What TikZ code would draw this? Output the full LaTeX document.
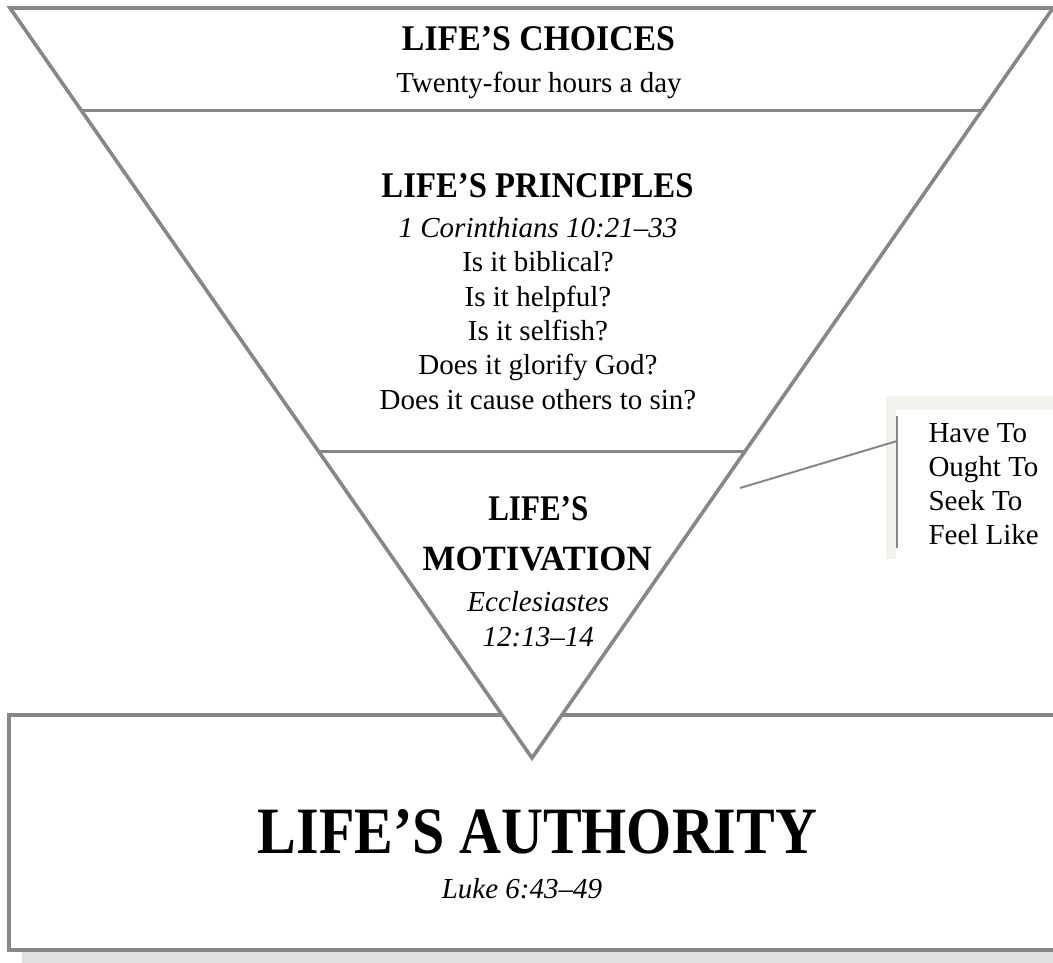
\documentclass[tikz,border=0pt]{standalone}
\usepackage{fontspec}
\setmainfont{Liberation Serif}
\usepackage{graphicx}
\usetikzlibrary{calc}
\definecolor{linegray}{RGB}{135,135,135}
\definecolor{shadowgray}{RGB}{224,224,224}
\definecolor{paperbeige}{RGB}{243,242,237}
\newcommand\headtext[3]{\resizebox{#1pt}{#2pt}{\bfseries #3}}

\begin{document}
\begin{tikzpicture}[x=1pt,y=-1pt,
  body/.style={inner sep=0pt, anchor=base, font=\fontsize{29}{34}\selectfont},
  bodyit/.style={inner sep=0pt, anchor=base, font=\fontsize{29}{34}\selectfont\itshape},
  sidetext/.style={inner sep=0pt, anchor=base west, font=\fontsize{29}{34}\selectfont},
  head/.style={inner sep=0pt, anchor=base},
  edgeline/.style={draw=linegray, line width=3.6pt, line join=miter},
  divider/.style={draw=linegray, line width=3pt},
  thinline/.style={draw=linegray, line width=2pt}]
\useasboundingbox (0,0) rectangle (1053,962);
\clip (0,0) rectangle (1053,962);

% bottom box with shadow
\fill[shadowgray] (22,724) rectangle (1090,975);
\draw[edgeline, line width=4pt, fill=white] (8.7,714.7) rectangle (1075,950);

% inverted triangle
\coordinate (tl) at (10,8);
\coordinate (tr) at (1053,8);
\coordinate (apex) at (532,758);
\draw[edgeline, fill=white] (tl) -- (tr) -- (apex) -- cycle;
\draw[divider] ($(tl)!0.136!(apex)$) -- ($(tr)!0.136!(apex)$);
\draw[divider] ($(tl)!0.5907!(apex)$) -- ($(tr)!0.5907!(apex)$);

% Life's choices
\node[head] (choices) at (538.5,50.7) {\headtext{273}{24}{LIFE’S CHOICES}};
\node[body] (hours) at (539,92) {Twenty-four hours a day};

% Life's principles
\node[head] (principles) at (537.5,197.3) {\headtext{312}{24}{LIFE’S PRINCIPLES}};
\node[bodyit] (cor) at (538,237.3) {1 Corinthians 10:21–33};
\node[body] (q1) at (538,271.7) {Is it biblical?};
\node[body] (q2) at (538,306.1) {Is it helpful?};
\node[body] (q3) at (538,340.5) {Is it selfish?};
\node[body] (q4) at (538,374.9) {Does it glorify God?};
\node[body] (q5) at (538,409.3) {Does it cause others to sin?};

% Life's motivation
\node[head] (motA) at (538.3,520) {\headtext{100}{24}{LIFE’S}};
\node[head] (motB) at (537.2,570.7) {\headtext{229}{23.5}{MOTIVATION}};
\node[bodyit] (eccA) at (538.3,611.7) {Ecclesiastes};
\node[bodyit] (eccB) at (538.3,646) {12:13–14};

% Life's authority
\node[head] (authority) at (537.5,853) {\headtext{559}{44}{LIFE’S AUTHORITY}};
\node[bodyit] (luke) at (522,898) {Luke 6:43–49};

% side box
\fill[paperbeige] (886,396) rectangle (1070,559);
\fill[white] (896,410) rectangle (1070,562);
\coordinate (bartop) at (897,416);
\coordinate (barbot) at (897,548);
\draw[thinline] (bartop) -- (barbot);
\node[sidetext] (s1) at (928.3,442.7) {Have To};
\node[sidetext] (s2) at (928.3,476.7) {Ought To};
\node[sidetext] (s3) at (928.3,510.3) {Seek To};
\node[sidetext] (s4) at (928.3,544.3) {Feel Like};
\coordinate (cfrom) at (740,488);
\coordinate (cto) at (897,441);
\draw[thinline] (cfrom) -- (cto);
\end{tikzpicture}
\end{document}
